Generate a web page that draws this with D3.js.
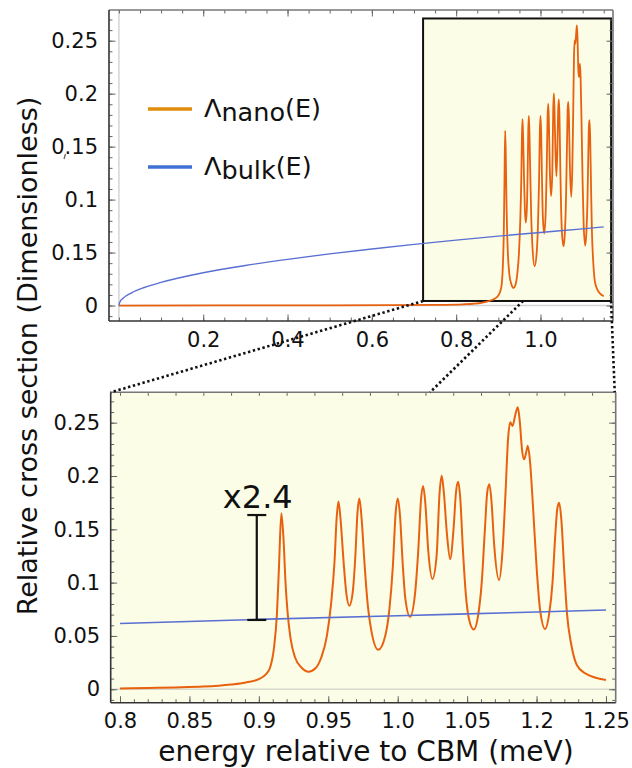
<!DOCTYPE html>
<html>
<head>
<meta charset="utf-8">
<script src="https://cdn.jsdelivr.net/npm/d3@7"></script>
<style>
  body { margin: 0; background: #fff; }
  svg text { font-family: "DejaVu Sans", Verdana, sans-serif; }
</style>
</head>
<body>
<div id="chart"></div>
<script>
/* DATA */
// bulk cross section
const bulkCurve = [
  [0, 0], [0.002, 0.003], [0.01, 0.0069], [0.03, 0.012], [0.06, 0.017], [0.1, 0.0218],
  [0.2, 0.0309], [0.3, 0.0378], [0.4, 0.0436], [0.5, 0.0488], [0.6, 0.0534], [0.7, 0.0577],
  [0.8, 0.0617], [0.9, 0.0655], [1.0, 0.069], [1.1, 0.0724], [1.15, 0.0743]
];

// nano cross section
const nanoCurve = [
  [0, 0], [0.3, 0.0001], [0.5, 0.0002], [0.65, 0.0004], [0.75, 0.0006],
  [0.8, 0.0008], [0.82, 0.0012], [0.84, 0.0017], [0.86, 0.0025], [0.88, 0.0045], [0.89, 0.0062],
  [0.9, 0.0095], [0.905, 0.014], [0.908, 0.02], [0.911, 0.04], [0.913, 0.07], [0.9145, 0.115],
  [0.9162, 0.165], [0.9178, 0.14], [0.9192, 0.1], [0.9207, 0.072], [0.9228, 0.048], [0.926, 0.03],
  [0.931, 0.02], [0.9357, 0.0165], [0.941, 0.02], [0.945, 0.03], [0.949, 0.05], [0.952, 0.08],
  [0.9545, 0.12], [0.956, 0.16], [0.9573, 0.176], [0.9588, 0.16], [0.961, 0.12], [0.963, 0.09],
  [0.9652, 0.0784], [0.9675, 0.09], [0.9695, 0.125], [0.971, 0.165], [0.9724, 0.179], [0.974, 0.16],
  [0.976, 0.12], [0.978, 0.085], [0.981, 0.055], [0.986, 0.037], [0.991, 0.05], [0.994, 0.075],
  [0.9965, 0.115], [0.9985, 0.165], [1.0001, 0.179], [1.0017, 0.162], [1.0035, 0.12], [1.0055, 0.085],
  [1.0089, 0.068], [1.0125, 0.09], [1.0148, 0.13], [1.0168, 0.178], [1.0183, 0.1906], [1.0198, 0.176],
  [1.022, 0.13], [1.025, 0.1034], [1.028, 0.125], [1.0302, 0.185], [1.0317, 0.2003], [1.0332, 0.185],
  [1.0355, 0.145], [1.0378, 0.122], [1.0402, 0.15], [1.042, 0.185], [1.0435, 0.1946], [1.045, 0.18],
  [1.047, 0.13], [1.049, 0.09], [1.0515, 0.065], [1.0548, 0.056], [1.058, 0.07], [1.0605, 0.1],
  [1.0628, 0.15], [1.0645, 0.185], [1.066, 0.1922], [1.0675, 0.177], [1.0695, 0.135], [1.073, 0.1025],
  [1.0755, 0.13], [1.0775, 0.18], [1.0795, 0.235], [1.081, 0.2503], [1.0827, 0.247], [1.0848, 0.258],
  [1.0865, 0.2644], [1.088, 0.25], [1.0895, 0.225], [1.091, 0.2156], [1.0925, 0.222], [1.0937, 0.2284],
  [1.0952, 0.215], [1.0975, 0.17], [1.1, 0.115], [1.1025, 0.075], [1.1062, 0.0565], [1.109, 0.07],
  [1.1115, 0.1], [1.1135, 0.145], [1.115, 0.17], [1.1163, 0.175], [1.1178, 0.16], [1.12, 0.11],
  [1.122, 0.07], [1.125, 0.042], [1.129, 0.0228], [1.135, 0.015], [1.142, 0.011], [1.15, 0.0087]
];

// tick values and the labels printed in the figure
const topXTicks = [0.2, 0.4, 0.6, 0.8, 1.0];
const topXLabels = ["0.2", "0.4", "0.6", "0.8", "1.0"];
const yTicks = [0, 0.05, 0.1, 0.15, 0.2, 0.25];
const topYLabels = ["0", "0.15", "0.1", "0.15", "0.2", "0.25"];
const botYLabels = ["0", "0.05", "0.1", "0.15", "0.2", "0.25"];
const botXTicks = [0.8, 0.85, 0.9, 0.95, 1.0, 1.05, 1.1, 1.15];
const botXLabels = ["0.8", "0.85", "0.9", "0.95", "1.0", "1.05", "1.2", "1.25"];

// the "x2.4" gap: energy, bulk value, nano peak value
const gapMark = { e: 0.8985, low: 0.065, high: 0.1634, label: "x2.4" };

/* CONSTANTS */
const width = 632, height = 768;
const nanoColor = "#e8610f", bulkColor = "#5a6fd2";
const fillYellow = "#fbfde6";
const font = "DejaVu Sans";

const svg = d3.select("#chart").append("svg")
  .attr("width", width)
  .attr("height", height);

// scales
const topX = d3.scaleLinear().domain([-0.0235, 1.172]).range([109, 613]);
const topY = d3.scaleLinear().domain([-0.0146, 0.279]).range([321, 10]);
const botX = d3.scaleLinear().domain([0.7933, 1.157]).range([110.7, 615.7]);
const botY = d3.scaleLinear().domain([-0.0126, 0.2785]).range([702.7, 392.3]);

const steps = (a, b, s) => d3.range(Math.round((b - a) / s) + 1).map(i => +(a + i * s).toFixed(4));

const nanoLine = (x, y) => d3.line().x(d => x(d[0])).y(d => y(d[1])).curve(d3.curveMonotoneX);
const bulkLine = (x, y) => d3.line().x(d => x(d[0])).y(d => y(d[1])).curve(d3.curveMonotoneX);

// frame with inward ticks on all four sides
function frame(x, y, o) {
  const [x0, x1] = x.range(), [y0, y1] = y.range();
  const g = svg.append("g");

  const axis = (gen, tr, vals, size, fmt) => {
    const a = g.append("g").attr("transform", tr)
      .call(gen.tickValues(vals).tickSize(size).tickSizeOuter(0).tickPadding(o.pad).tickFormat(fmt || ""));
    a.select(".domain").remove();
    a.selectAll("line").attr("stroke", "#666").attr("stroke-width", 1);
    a.selectAll("text").attr("font-family", font).attr("font-size", 21).attr("fill", "#111");
    return a;
  };

  // minor
  axis(d3.axisBottom(x), `translate(0,${y0})`, o.xMinor, -3.5);
  axis(d3.axisTop(x), `translate(0,${y1})`, o.xTopMinor, -3.5);
  axis(d3.axisLeft(y), `translate(${x0},0)`, o.yMinor, -3.5);
  axis(d3.axisRight(y), `translate(${x1},0)`, o.yMinor, -3.5);
  // major
  axis(d3.axisBottom(x), `translate(0,${y0})`, o.xMajor, -6.5, (d, i) => o.xLabels[i]);
  axis(d3.axisTop(x), `translate(0,${y1})`, o.xTopMajor, -6.5);
  axis(d3.axisLeft(y), `translate(${x0},0)`, yTicks, -6.5, (d, i) => o.yLabels[i]);
  axis(d3.axisRight(y), `translate(${x1},0)`, yTicks, -6.5);

  g.append("line").attr("x1", x0).attr("x2", x1).attr("y1", y1).attr("y2", y1)
    .attr("stroke", "#777").attr("stroke-width", 1.6);
  g.append("line").attr("x1", x1).attr("x2", x1).attr("y1", y1).attr("y2", y0)
    .attr("stroke", "#777").attr("stroke-width", 1.6);
  g.append("line").attr("x1", x0).attr("x2", x0).attr("y1", y1).attr("y2", y0)
    .attr("stroke", "#333").attr("stroke-width", 1.6);
  g.append("line").attr("x1", x0).attr("x2", x1).attr("y1", y0).attr("y2", y0)
    .attr("stroke", "#333").attr("stroke-width", 1.6);
}

/* TOP PANEL */
// zero lines
svg.append("line")
  .attr("x1", topX(0)).attr("x2", topX.range()[1]).attr("y1", topY(0)).attr("y2", topY(0))
  .attr("stroke", "#d4d4d4").attr("stroke-width", 1.5);
svg.append("line")
  .attr("x1", topX(0)).attr("x2", topX(0)).attr("y1", topY.range()[1]).attr("y2", topY.range()[0])
  .attr("stroke", "#d4d4d4").attr("stroke-width", 1.5);

// highlighted region
const inset = { e0: 0.7215, e1: 1.1675, v0: 0.0043, v1: 0.271 };
svg.append("rect")
  .attr("x", topX(inset.e0)).attr("y", topY(inset.v1))
  .attr("width", topX(inset.e1) - topX(inset.e0))
  .attr("height", topY(inset.v0) - topY(inset.v1))
  .attr("fill", fillYellow).attr("stroke", "#111").attr("stroke-width", 2);

svg.append("path").datum(nanoCurve)
  .attr("d", nanoLine(topX, topY)).attr("fill", "none")
  .attr("stroke", nanoColor).attr("stroke-width", 1.8).attr("stroke-linejoin", "round");
svg.append("path").datum(bulkCurve)
  .attr("d", bulkLine(topX, topY)).attr("fill", "none")
  .attr("stroke", bulkColor).attr("stroke-width", 1.4);

frame(topX, topY, {
  pad: 11,
  xMajor: topXTicks, xLabels: topXLabels, xMinor: steps(0, 1.15, 0.05),
  xTopMajor: topXTicks, xTopMinor: steps(0, 1.15, 0.05),
  yMinor: steps(-0.01, 0.27, 0.01), yLabels: topYLabels
});

// stray mark below the first "0.15" label
svg.append("path").attr("d", "M65.5,154 L64,159")
  .attr("stroke", "#666").attr("stroke-width", 1.3).attr("fill", "none");

// legend
const legend = [
  { sub: "nano", color: "#e08e0c", y: 109 },
  { sub: "bulk", color: "#3f70d6", y: 167 }
];
const lg = svg.append("g");
legend.forEach(d => {
  lg.append("line").attr("x1", 148).attr("x2", 192).attr("y1", d.y).attr("y2", d.y)
    .attr("stroke", d.color).attr("stroke-width", 3.5);
  const t = lg.append("text").attr("x", 204).attr("y", d.y + 8)
    .attr("font-size", 25.5).attr("fill", "#111");
  t.append("tspan").text("Λ");
  t.append("tspan").attr("dy", 4).text(d.sub);
  t.append("tspan").attr("dy", -4).text("(E)");
});

/* BOTTOM PANEL */
svg.append("rect")
  .attr("x", botX.range()[0]).attr("y", botY.range()[1])
  .attr("width", botX.range()[1] - botX.range()[0])
  .attr("height", botY.range()[0] - botY.range()[1])
  .attr("fill", fillYellow);
svg.append("line")
  .attr("x1", botX.range()[0]).attr("x2", botX.range()[1]).attr("y1", botY(0)).attr("y2", botY(0))
  .attr("stroke", "#d8d8cc").attr("stroke-width", 1.5);

svg.append("path").datum(nanoCurve.filter(d => d[0] >= 0.8))
  .attr("d", nanoLine(botX, botY)).attr("fill", "none")
  .attr("stroke", nanoColor).attr("stroke-width", 2).attr("stroke-linejoin", "round");
svg.append("path").datum(bulkCurve.filter(d => d[0] >= 0.8))
  .attr("d", bulkLine(botX, botY)).attr("fill", "none")
  .attr("stroke", bulkColor).attr("stroke-width", 1.6);

frame(botX, botY, {
  pad: 10.5,
  xMajor: botXTicks, xLabels: botXLabels, xMinor: steps(0.8, 1.15, 0.01),
  xTopMajor: [], xTopMinor: steps(0.8, 1.14, 0.02),
  yMinor: steps(-0.01, 0.27, 0.01), yLabels: botYLabels
});

// gap annotation
const gx = botX(gapMark.e);
const ann = svg.append("g").attr("stroke", "#111").attr("stroke-width", 2.2);
ann.append("line").attr("x1", gx).attr("x2", gx).attr("y1", botY(gapMark.low)).attr("y2", botY(gapMark.high));
ann.append("line").attr("x1", gx - 9.5).attr("x2", gx + 9.5).attr("y1", botY(gapMark.low)).attr("y2", botY(gapMark.low));
ann.append("line").attr("x1", gx - 9.5).attr("x2", gx + 9.5).attr("y1", botY(gapMark.high)).attr("y2", botY(gapMark.high));
svg.append("text").attr("x", gx + 1).attr("y", botY(gapMark.high) - 7)
  .attr("text-anchor", "middle").attr("font-size", 32).attr("fill", "#111").text(gapMark.label);

/* ZOOM CONNECTORS */
const connectors = [
  [[topX(inset.e0), topY(inset.v0)], [botX.range()[0], botY.range()[1]]],
  [[topX(0.9587), topY(inset.v0)], [botX(1.0233), botY.range()[1]]],
  [[topX(inset.e1), topY(inset.v0)], [botX.range()[1] - 1, botY.range()[1]]]
];
svg.append("g").selectAll("line").data(connectors).join("line")
  .attr("x1", d => d[0][0]).attr("y1", d => d[0][1])
  .attr("x2", d => d[1][0]).attr("y2", d => d[1][1])
  .attr("stroke", "#111").attr("stroke-width", 2.6).attr("stroke-dasharray", "2.4,2.6");

/* AXIS TITLES */
svg.append("text")
  .attr("transform", `translate(37,356) rotate(-90)`)
  .attr("text-anchor", "middle").attr("font-size", 27).attr("fill", "#111")
  .text("Relative cross section (Dimensionless)");
svg.append("text")
  .attr("x", 366).attr("y", 761)
  .attr("text-anchor", "middle").attr("font-size", 28).attr("fill", "#111")
  .text("energy relative to CBM (meV)");
</script>
</body>
</html>
